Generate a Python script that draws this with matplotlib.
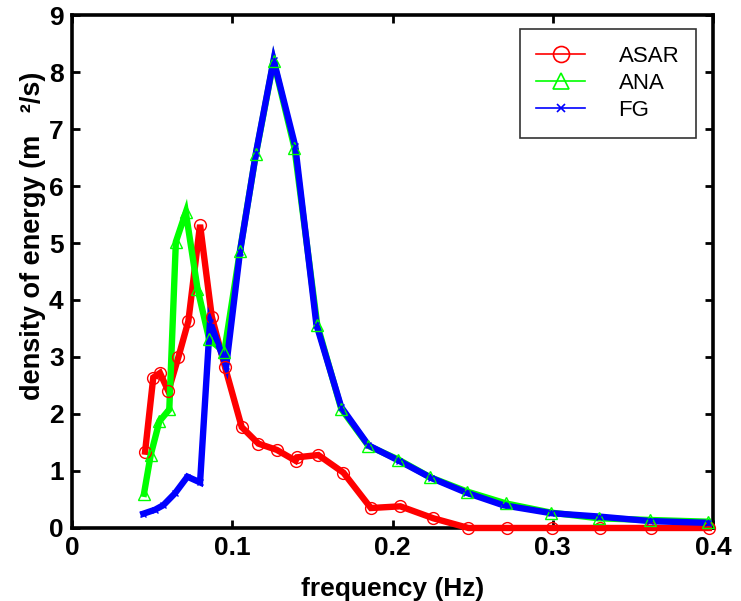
import matplotlib
matplotlib.use("Agg")
import matplotlib.pyplot as plt
from matplotlib.lines import Line2D

# spectra
asar_freq = [0.0456, 0.0507, 0.0549, 0.0601, 0.0664, 0.0726, 0.0799, 0.0872,
             0.0955, 0.1059, 0.1163, 0.1278, 0.1395, 0.1405, 0.1537, 0.1694,
             0.1865, 0.2049, 0.2255, 0.2474, 0.2713, 0.2994, 0.3292, 0.3612,
             0.3974]
asar_val = [1.34, 2.64, 2.72, 2.40, 3.00, 3.63, 5.32, 3.71,
            2.82, 1.77, 1.48, 1.37, 1.18, 1.24, 1.28, 0.97,
            0.35, 0.38, 0.17, 0.0, 0.0, 0.0, 0.0, 0.0,
            0.0]

ana_freq = [0.0449, 0.0491, 0.0545, 0.0607, 0.0648, 0.0710, 0.0783, 0.0856,
            0.0950, 0.1048, 0.1148, 0.1258, 0.1388, 0.1530, 0.1680, 0.1850,
            0.2037, 0.2235, 0.2464, 0.2709, 0.2988, 0.3286, 0.3608, 0.3968]
ana_val = [0.60, 1.28, 1.87, 2.08, 5.02, 5.54, 4.20, 3.31,
           3.09, 4.86, 6.57, 8.19, 6.67, 3.57, 2.09, 1.44,
           1.20, 0.89, 0.64, 0.43, 0.27, 0.17, 0.14, 0.11]

fg_freq = [0.0445, 0.0518, 0.0570, 0.0643, 0.0720, 0.0799, 0.0861, 0.0962,
           0.1048, 0.1148, 0.1258, 0.1393, 0.1525, 0.1680, 0.1850, 0.2040,
           0.2240, 0.2460, 0.2690, 0.2990, 0.3290, 0.3610, 0.3970]
fg_val = [0.25, 0.32, 0.40, 0.61, 0.90, 0.80, 3.62, 2.84,
          4.84, 6.58, 8.21, 6.70, 3.57, 2.12, 1.45, 1.18,
          0.88, 0.62, 0.40, 0.26, 0.20, 0.12, 0.09]

names = ["ASAR", "ANA", "FG"]
colors = ["#ff0000", "#00ff00", "#0000ff"]
markers = ["o", "^", "x"]
msizes = [8.5, 9, 4]

series = [(asar_freq, asar_val), (ana_freq, ana_val), (fg_freq, fg_val)]

plt.rcParams["font.family"] = ["Liberation Sans", "DejaVu Sans"]

fig = plt.figure(figsize=(7.41, 6.01), dpi=100)
ax = fig.add_axes([0.0972, 0.1215, 0.865, 0.8535])

# thick lines first, then the open markers on top
for (f, v), c in zip(series, colors):
    ax.plot(f, v, color=c, lw=4.6, solid_joinstyle="miter", zorder=2, clip_on=False)
for (f, v), c, m, ms in zip(series, colors, markers, msizes):
    ax.plot(f, v, ls="none", marker=m, ms=ms, mfc="none", mec=c, mew=1.0,
            zorder=3, clip_on=False)

ax.set_xlim(0, 0.4)
ax.set_ylim(0, 9)
ax.set_xticks([0, 0.1, 0.2, 0.3, 0.4])
ax.set_xticklabels(["0", "0.1", "0.2", "0.3", "0.4"])
ax.set_yticks(range(10))

for s in ax.spines.values():
    s.set_linewidth(2.6)
    s.set_zorder(1.5)
ax.tick_params(direction="in", length=6, width=2, top=True, right=True,
               labelsize=19, pad=6)
for lab in ax.get_xticklabels() + ax.get_yticklabels():
    lab.set_fontweight("bold")

ax.set_xlabel("frequency (Hz)", fontsize=19, fontweight="bold")
ax.set_ylabel("density of energy (m   \u00b2/s)", fontsize=19.5, fontweight="bold")
ax.xaxis.set_label_coords(0.5, -0.095)
ax.yaxis.set_label_coords(-0.04, 0.57)

handles = [Line2D([], [], color=c, lw=1.2, marker=m, ms=ms + 3 if m != "x" else 6,
                  mfc="none", mec=c, mew=1.2)
           for c, m, ms in zip(colors, markers, msizes)]
leg = ax.legend(handles, names, loc="upper right", bbox_to_anchor=(0.9735, 0.973),
                fontsize=16, frameon=True, fancybox=False, edgecolor="black",
                handlelength=2.2, handletextpad=1.5, labelspacing=0.28,
                borderpad=0.75, borderaxespad=0)
leg.get_frame().set_linewidth(1.2)

fig.savefig("out.png", dpi=100)
